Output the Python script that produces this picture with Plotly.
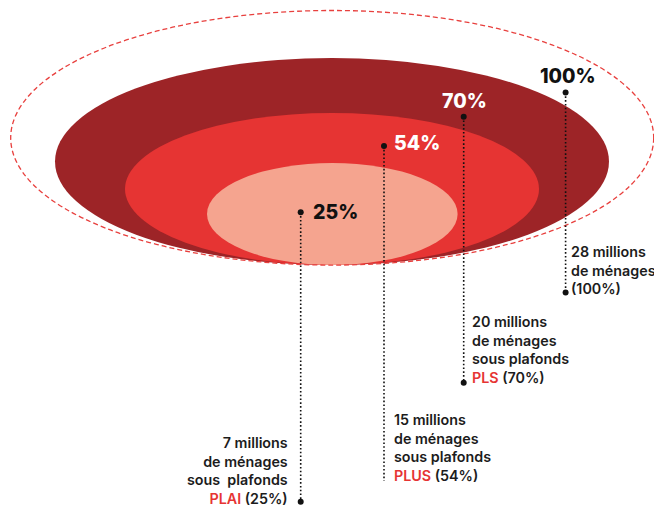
import plotly.graph_objects as go

# ---- data ----
shares = [100, 70, 54, 25]                 # % of households
households_millions = [28, 20, 15, 7]      # millions of households
schemes = ["", "PLS", "PLUS", "PLAI"]      # income ceiling scheme
pct_labels = [f"{s}%" for s in shares]

# ---- layout geometry (page pixels, canvas 662x506) ----
W, H = 662, 506
PAGE_OFF = 8  # default body margin of the html page
# ellipses: centre x, centre y, half-width, half-height (outer dashed first)
ell_cx = [332.2, 332.0, 332.0, 332.3]
ell_cy = [137.8, 161.5, 189.0, 214.0]
ell_a = [321.5, 277.0, 207.0, 125.3]
ell_b = [127.3, 103.5, 76.0, 51.0]
ell_fill = [None, "#9d2427", "#e63433", "#f5a48f"]

# leader lines: x, top y, bottom y, dot at bottom?
lead_x = [565.6, 463.7, 384.0, 300.7]
lead_top = [92.5, 116.7, 146.0, 212.3]
lead_bot = [292.6, 382.7, 481.0, 501.7]
lead_bot_dot = [True, True, False, True]

# percentage labels
pct_x = [567.5, 464.5, 391.5, 310.5]
pct_y = [76.0, 100.7, 143.3, 211.7]
pct_anchor = ["center", "center", "left", "left"]
pct_color = ["#111111", "#ffffff", "#ffffff", "#111111"]

# description blocks
desc_x = [568.5, 470.0, 391.8, 289.5]
desc_y = [270.0, 349.0, 447.5, 470.0]
desc_anchor = ["left", "left", "left", "right"]

RED = "#e63433"
INK = "#1c1c1c"
FONT = "Inter"

fig = go.Figure()

shapes = []
for i in range(1, 4):
    shapes.append(dict(
        type="circle", xref="x", yref="y",
        x0=ell_cx[i] - ell_a[i], x1=ell_cx[i] + ell_a[i],
        y0=ell_cy[i] - ell_b[i], y1=ell_cy[i] + ell_b[i],
        fillcolor=ell_fill[i], line=dict(width=0), layer="below",
    ))
shapes.append(dict(
    type="circle", xref="x", yref="y",
    x0=ell_cx[0] - ell_a[0], x1=ell_cx[0] + ell_a[0],
    y0=ell_cy[0] - ell_b[0], y1=ell_cy[0] + ell_b[0],
    fillcolor="rgba(0,0,0,0)", line=dict(color="#e8403e", width=1.3, dash="5px,3px"),
    layer="below",
))

for i in range(4):
    fig.add_trace(go.Scatter(
        x=[lead_x[i], lead_x[i]], y=[lead_top[i], lead_bot[i]],
        mode="lines", line=dict(color="#111111", width=1.6, dash="1.6px,2.2px"),
        hoverinfo="skip", showlegend=False,
    ))
dot_x, dot_y = [], []
for i in range(4):
    dot_x.append(lead_x[i]); dot_y.append(lead_top[i])
    if lead_bot_dot[i]:
        dot_x.append(lead_x[i]); dot_y.append(lead_bot[i])
fig.add_trace(go.Scatter(
    x=dot_x, y=dot_y, mode="markers",
    marker=dict(color="#111111", size=6, line=dict(width=0)),
    hoverinfo="skip", showlegend=False,
))

annotations = []
for i in range(4):
    annotations.append(dict(
        x=pct_x[i], y=pct_y[i], xref="x", yref="y", text=pct_labels[i],
        showarrow=False, xanchor=pct_anchor[i], yanchor="middle",
        font=dict(family=FONT, size=19.5, color=pct_color[i], weight=800),
    ))

for i in range(4):
    if i == 0:
        text = f"{households_millions[i]} millions<br>de ménages<br>({shares[i]}%)"
    else:
        sous = "sous&nbsp; plafonds" if i == 3 else "sous plafonds"
        text = (f"{households_millions[i]} millions<br>de ménages<br>{sous}<br>"
                f"<span style='color:{RED}'>{schemes[i]}</span> ({shares[i]}%)")
    annotations.append(dict(
        x=desc_x[i], y=desc_y[i], xref="x", yref="y", text=text,
        showarrow=False, xanchor=desc_anchor[i], yanchor="middle",
        align=desc_anchor[i],
        font=dict(family=FONT, size=14.3, color=INK, weight=600),
    ))

fig.update_layout(
    width=W - PAGE_OFF, height=H - PAGE_OFF,
    margin=dict(l=0, r=0, t=0, b=0),
    paper_bgcolor="white", plot_bgcolor="white",
    xaxis=dict(range=[PAGE_OFF, W], visible=False, fixedrange=True),
    yaxis=dict(range=[H, PAGE_OFF], visible=False, fixedrange=True),
    shapes=shapes, annotations=annotations, showlegend=False,
)

fig.write_html("out.html")
